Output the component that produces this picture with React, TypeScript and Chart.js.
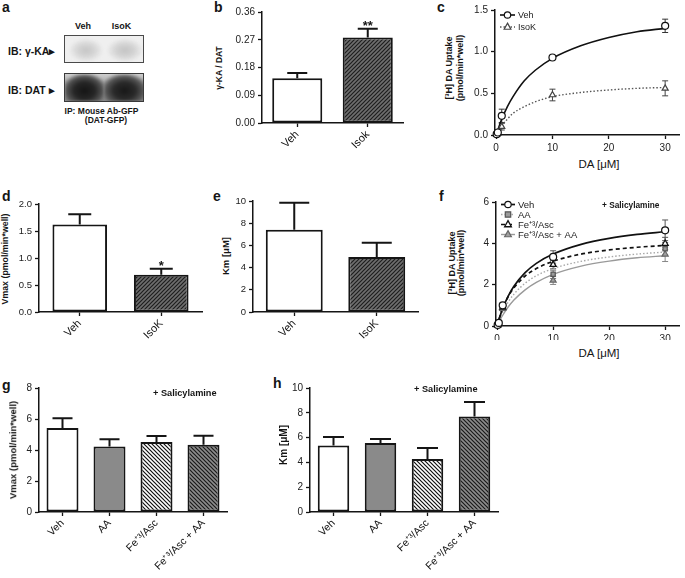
import React, { useEffect, useRef } from "react";
import { Chart, registerables } from "chart.js";

Chart.register(...registerables);

const FONT = "'Liberation Sans', Arial, Helvetica, sans-serif";
const INK = "#151515";
const TICK_INK = "#222222";

// ---------------- Panel b: gamma-KA / DAT ----------------
const bCategories = ["Veh", "Isok"];
const bValues = [0.145, 0.277];
const bErrors = [0.017, 0.029];
const bSignif = ["", "**"];
const bTicks = [0, 0.09, 0.18, 0.27, 0.36];
const bTickLabels = ["0.00", "0.09", "0.18", "0.27", "0.36"];

// ---------------- Panel c: uptake kinetics ----------------
const cCurveX = [0, 0.5, 1, 2, 3, 5, 7, 10, 15, 20, 25, 30];
const cVehCurve = [0, 0.1, 0.19, 0.34, 0.46, 0.65, 0.78, 0.92, 1.07, 1.17, 1.24, 1.28];
const cIsoKCurve = [0, 0.06, 0.11, 0.19, 0.26, 0.34, 0.4, 0.46, 0.51, 0.54, 0.56, 0.57];
const cPointX = [0.1, 0.3, 1, 10, 30];
const cVehPoints = [0.01, 0.03, 0.23, 0.93, 1.31];
const cVehErrors = [0.01, 0.02, 0.08, 0.02, 0.08];
const cIsoKPoints = [0.005, 0.015, 0.1, 0.48, 0.56];
const cIsoKErrors = [0.005, 0.01, 0.04, 0.07, 0.09];
const cSeriesNames = ["Veh", "IsoK"];
const cXTicks = [0, 10, 20, 30];
const cYTicks = [0, 0.5, 1, 1.5];
const cYTickLabels = ["0.0", "0.5", "1.0", "1.5"];

// ---------------- Panel d: Vmax ----------------
const dCategories = ["Veh", "IsoK"];
const dValues = [1.62, 0.69];
const dErrors = [0.19, 0.11];
const dSignif = ["", "*"];
const dTicks = [0, 0.5, 1, 1.5, 2];
const dTickLabels = ["0.0", "0.5", "1.0", "1.5", "2.0"];

// ---------------- Panel e: Km ----------------
const eCategories = ["Veh", "IsoK"];
const eValues = [7.42, 4.95];
const eErrors = [2.42, 1.28];
const eTicks = [0, 2, 4, 6, 8, 10];

// ---------------- Panel f: uptake kinetics + Salicylamine ----------------
const fCurveX = [0, 0.5, 1, 2, 3, 5, 7, 10, 15, 20, 25, 30];
const fVehCurve = [0, 0.46, 0.85, 1.46, 1.92, 2.58, 3.03, 3.48, 3.95, 4.24, 4.43, 4.56];
const fAACurve = [0, 0.37, 0.68, 1.17, 1.54, 2.07, 2.43, 2.78, 3.13, 3.34, 3.48, 3.58];
const fFeCurve = [0, 0.47, 0.86, 1.44, 1.85, 2.42, 2.78, 3.13, 3.48, 3.68, 3.81, 3.9];
const fFeAACurve = [0, 0.28, 0.52, 0.93, 1.26, 1.75, 2.11, 2.5, 2.9, 3.14, 3.3, 3.4];
const fPointX = [0.1, 0.3, 1, 10, 30];
const fVehPoints = [0.05, 0.15, 1.0, 3.34, 4.63];
const fVehErrors = [0.03, 0.05, 0.1, 0.3, 0.5];
const fAAPoints = [0.04, 0.12, 1.0, 2.5, 3.74];
const fAAErrors = [0.03, 0.05, 0.1, 0.2, 0.3];
const fFePoints = [0.05, 0.13, 0.9, 2.97, 3.99];
const fFeErrors = [0.03, 0.05, 0.1, 0.2, 0.3];
const fFeAAPoints = [0.03, 0.1, 0.84, 2.21, 3.47];
const fFeAAErrors = [0.03, 0.05, 0.1, 0.2, 0.35];
const fSeriesNames = ["Veh", "AA", "Fe\u207A\u00B3/Asc", "Fe\u207A\u00B3/Asc + AA"];
const fXTicks = [0, 10, 20, 30];
const fYTicks = [0, 2, 4, 6];

// ---------------- Panels g / h ----------------
const ghCategories = ["Veh", "AA", "Fe\u207A\u00B3/Asc", "Fe\u207A\u00B3/Asc + AA"];
const gValues = [5.42, 4.23, 4.52, 4.34];
const gErrors = [0.63, 0.46, 0.38, 0.58];
const gTicks = [0, 2, 4, 6, 8];
const hValues = [5.37, 5.56, 4.27, 7.71];
const hErrors = [0.68, 0.33, 0.89, 1.16];
const hTicks = [0, 2, 4, 6, 8, 10];

// ---------------- geometry (canvas box + plot area in page px) ----------------
const GEO: any = {
  b: { left: 226, top: 0, width: 186, height: 160, x0: 262, y0: 12, x1: 403, y1: 123 },
  c: { left: 470, top: 0, width: 215, height: 155, x0: 495, y0: 10, x1: 683, y1: 135 },
  d: { left: 12, top: 190, width: 198, height: 155, x0: 39, y0: 204, x1: 202, y1: 312 },
  e: { left: 232, top: 190, width: 192, height: 155, x0: 253, y0: 201, x1: 418, y1: 312 },
  f: { left: 470, top: 190, width: 215, height: 150, x0: 496, y0: 202, x1: 683, y1: 326 },
  g: { left: 14, top: 378, width: 220, height: 200, x0: 39, y0: 388, x1: 227, y1: 512 },
  h: { left: 286, top: 378, width: 218, height: 200, x0: 310, y0: 388, x1: 498, y1: 512 },
};

function makeHatch(bg: string, fg: string, step: number, dir: number, lw: number) {
  const c = document.createElement("canvas");
  c.width = step;
  c.height = step;
  const x = c.getContext("2d")!;
  x.fillStyle = bg;
  x.fillRect(0, 0, step, step);
  x.strokeStyle = fg;
  x.lineWidth = lw;
  x.beginPath();
  if (dir > 0) {
    x.moveTo(-1, step + 1);
    x.lineTo(step + 1, -1);
    x.moveTo(-1, 1);
    x.lineTo(1, -1);
    x.moveTo(step - 1, step + 1);
    x.lineTo(step + 1, step - 1);
  } else {
    x.moveTo(-1, -1);
    x.lineTo(step + 1, step + 1);
    x.moveTo(step - 1, -1);
    x.lineTo(step + 1, 1);
    x.moveTo(-1, step - 1);
    x.lineTo(1, step + 1);
  }
  x.stroke();
  return x.createPattern(c, "repeat");
}

function drawMarker(ctx: CanvasRenderingContext2D, style: string, x: number, y: number, r: number, fill: string, stroke: string, lw: number) {
  ctx.save();
  ctx.setLineDash([]);
  ctx.beginPath();
  if (style === "circle") ctx.arc(x, y, r, 0, Math.PI * 2);
  else if (style === "rect") ctx.rect(x - r, y - r, 2 * r, 2 * r);
  else {
    ctx.moveTo(x, y - r * 1.2);
    ctx.lineTo(x + r * 1.05, y + r * 0.7);
    ctx.lineTo(x - r * 1.05, y + r * 0.7);
    ctx.closePath();
  }
  ctx.fillStyle = fill;
  ctx.fill();
  ctx.strokeStyle = stroke;
  ctx.lineWidth = lw;
  ctx.stroke();
  ctx.restore();
}

const valueOf = (d: any) => (typeof d === "number" ? d : d.y);

const errorBarPlugin = {
  id: "errbars",
  beforeDatasetsDraw(chart: any) {
    const ctx = chart.ctx;
    const yS = chart.scales.y;
    chart.data.datasets.forEach((ds: any, di: number) => {
      if (!ds.errors) return;
      const meta = chart.getDatasetMeta(di);
      ctx.save();
      ctx.strokeStyle = ds.errColor || INK;
      ctx.lineWidth = ds.errWidth || 2;
      meta.data.forEach((el: any, i: number) => {
        const v = valueOf(ds.data[i]);
        const e = ds.errors[i];
        const x = el.x;
        const yTop = yS.getPixelForValue(v + e);
        const yBot = ds.bothSides ? yS.getPixelForValue(Math.max(v - e, 0)) : yS.getPixelForValue(v);
        const cw = ds.capWidth / 2;
        ctx.beginPath();
        ctx.moveTo(x, yBot);
        ctx.lineTo(x, yTop);
        ctx.moveTo(x - cw, yTop);
        ctx.lineTo(x + cw, yTop);
        if (ds.bothSides) {
          ctx.moveTo(x - cw, yBot);
          ctx.lineTo(x + cw, yBot);
        }
        ctx.stroke();
      });
      ctx.restore();
    });
  },
  afterDatasetsDraw(chart: any) {
    const ctx = chart.ctx;
    const yS = chart.scales.y;
    chart.data.datasets.forEach((ds: any, di: number) => {
      if (!ds.signif) return;
      const meta = chart.getDatasetMeta(di);
      ctx.save();
      ctx.fillStyle = INK;
      ctx.font = `bold 13px ${FONT}`;
      ctx.textAlign = "center";
      ctx.textBaseline = "alphabetic";
      meta.data.forEach((el: any, i: number) => {
        const s = ds.signif[i];
        if (!s) return;
        const top = yS.getPixelForValue(valueOf(ds.data[i]) + ds.errors[i]);
        ctx.fillText(s, el.x, top + 1.5);
      });
      ctx.restore();
    });
  },
};

const kinLegendPlugin = {
  id: "kinLegend",
  afterDraw(chart: any, _args: any, opts: any) {
    if (!opts || !opts.items) return;
    const ctx = chart.ctx;
    const a = chart.chartArea;
    opts.items.forEach((it: any, i: number) => {
      const y = a.top + opts.dy + i * opts.rowH;
      const x = a.left + opts.dx;
      ctx.save();
      ctx.strokeStyle = it.color;
      ctx.lineWidth = it.lw;
      ctx.setLineDash(it.dash);
      ctx.beginPath();
      ctx.moveTo(x, y);
      ctx.lineTo(x + opts.lineLen, y);
      ctx.stroke();
      ctx.restore();
      drawMarker(ctx, it.marker, x + opts.lineLen / 2, y, it.r, it.fill, it.stroke, it.mlw);
      ctx.save();
      ctx.fillStyle = TICK_INK;
      ctx.font = `${opts.size}px ${FONT}`;
      ctx.textAlign = "left";
      ctx.textBaseline = "middle";
      ctx.fillText(it.text, x + opts.lineLen + 3, y + 0.5);
      ctx.restore();
    });
  },
};

function axisBase(size: number) {
  return {
    grid: { display: true, drawOnChartArea: false, drawTicks: true, tickLength: 4, tickWidth: 1.3, color: INK, offset: false },
    border: { display: true, color: INK, width: 1.5 },
    ticks: { color: TICK_INK, font: { family: FONT, size } },
  };
}

function yAxis(geo: any, ticks: number[], labels: string[], size: number) {
  const base = axisBase(size);
  return {
    type: "linear",
    min: ticks[0],
    max: ticks[ticks.length - 1],
    afterBuildTicks: (s: any) => {
      s.ticks = ticks.map((v) => ({ value: v }));
    },
    grid: base.grid,
    border: base.border,
    ticks: { ...base.ticks, padding: 3, callback: (_v: any, i: number) => labels[i] },
    afterFit: (s: any) => {
      s.width = geo.x0 - geo.left;
    },
  };
}

function commonOptions(geo: any) {
  return {
    animation: false,
    responsive: false,
    maintainAspectRatio: false,
    devicePixelRatio: 1,
    events: [],
    layout: { padding: { left: 0, top: geo.y0 - geo.top, right: geo.left + geo.width - geo.x1, bottom: 0 } },
  };
}

function barConfig(geo: any, categories: string[], values: number[], errors: number[], fills: any[], ticks: number[], tickLabels: string[], o: any) {
  const base = axisBase(o.catSize);
  return {
    type: "bar",
    data: {
      labels: categories,
      datasets: [
        {
          data: values,
          errors,
          signif: o.signif,
          capWidth: o.capWidth,
          backgroundColor: fills,
          borderColor: INK,
          borderWidth: 2,
          borderSkipped: false,
          barPercentage: o.barPct,
          categoryPercentage: 1,
        },
      ],
    },
    options: {
      ...commonOptions(geo),
      plugins: { legend: { display: false }, tooltip: { enabled: false } },
      scales: {
        x: {
          type: "category",
          offset: true,
          grid: base.grid,
          border: base.border,
          ticks: { ...base.ticks, color: "#111111", autoSkip: false, maxRotation: 45, minRotation: 45, padding: 1 },
          afterFit: (s: any) => {
            s.height = geo.top + geo.height - geo.y1;
          },
        },
        y: yAxis(geo, ticks, tickLabels, o.tickSize),
      },
    },
    plugins: [errorBarPlugin],
  };
}

function kinConfig(geo: any, curveX: number[], pointX: number[], series: any[], xTicks: number[], yTicks: number[], yLabels: string[], legend: any, tickSize: number) {
  const base = axisBase(tickSize);
  const curves = series.map((s) => ({
    type: "line",
    data: curveX.map((x, i) => ({ x, y: s.curve[i] })),
    borderColor: s.color,
    borderWidth: s.lw,
    borderDash: s.dash,
    pointRadius: 0,
    tension: 0.4,
    cubicInterpolationMode: "monotone",
    fill: false,
    order: 2,
  }));
  const points = series.map((s) => ({
    type: "scatter",
    data: pointX.map((x, i) => ({ x, y: s.points[i] })),
    errors: s.errors,
    bothSides: true,
    capWidth: 6,
    errColor: s.errColor,
    errWidth: 1,
    pointStyle: s.marker,
    pointRadius: s.r,
    backgroundColor: s.fill,
    borderColor: s.stroke,
    borderWidth: s.mlw,
    clip: false,
    order: 1,
  }));
  return {
    type: "scatter",
    data: { datasets: [...curves, ...points] },
    options: {
      ...commonOptions(geo),
      plugins: {
        legend: { display: false },
        tooltip: { enabled: false },
        kinLegend: {
          ...legend,
          items: series.map((s) => ({ text: s.name, color: s.color, lw: s.lw, dash: s.dash, marker: s.marker, r: s.r - 0.3, fill: s.fill, stroke: s.stroke, mlw: s.mlw })),
        },
      },
      scales: {
        x: {
          type: "linear",
          min: -0.2,
          max: 32.6,
          afterBuildTicks: (s: any) => {
            s.ticks = xTicks.map((v) => ({ value: v }));
          },
          grid: base.grid,
          border: base.border,
          ticks: { ...base.ticks, padding: 3, maxRotation: 0, callback: (v: any) => String(v) },
          afterFit: (s: any) => {
            s.height = geo.top + geo.height - geo.y1;
          },
        },
        y: yAxis(geo, yTicks, yLabels, tickSize),
      },
    },
    plugins: [errorBarPlugin, kinLegendPlugin],
  };
}

function ChartBox({ geo, build }: { geo: any; build: () => any }) {
  const ref = useRef<HTMLCanvasElement | null>(null);
  useEffect(() => {
    const cv = ref.current;
    if (!cv) return;
    const chart = new Chart(cv, build());
    return () => chart.destroy();
  }, []);
  return (
    <canvas
      ref={ref}
      width={geo.width}
      height={geo.height}
      style={{ position: "absolute", left: geo.left, top: geo.top, width: geo.width, height: geo.height }}
    />
  );
}

function Txt({ x, y, size, bold = false, anchor = "c", rot = 0, children, color = INK }: any) {
  const tx = anchor === "l" ? "0" : anchor === "r" ? "-100%" : "-50%";
  return (
    <div
      style={{
        position: "absolute",
        left: x,
        top: y,
        transform: `translate(${tx}, -50%)${rot ? ` rotate(${rot}deg)` : ""}`,
        fontFamily: FONT,
        fontSize: size,
        fontWeight: bold ? 700 : 400,
        lineHeight: 1,
        whiteSpace: "nowrap",
        color,
      }}
    >
      {children}
    </div>
  );
}

function Blot() {
  const lane = (left: number, width: number, bg: string, blur: number) => (
    <div style={{ position: "absolute", left, top: 0, width, height: "100%", background: bg, filter: `blur(${blur}px)` }} />
  );
  return (
    <>
      <div
        style={{ position: "absolute", left: 64, top: 35, width: 80, height: 28, border: "1px solid #4a4a4a", boxSizing: "border-box", background: "#efefef", overflow: "hidden" }}
      >
        {lane(4, 34, "radial-gradient(ellipse 60% 55% at 50% 55%, #c6c6c6 0%, #d6d6d6 45%, rgba(239,239,239,0) 85%)", 1)}
        {lane(42, 36, "radial-gradient(ellipse 60% 55% at 50% 55%, #c4c4c4 0%, #d4d4d4 45%, rgba(239,239,239,0) 85%)", 1)}
      </div>
      <div
        style={{ position: "absolute", left: 64, top: 73, width: 80, height: 29, border: "1px solid #3a3a3a", boxSizing: "border-box", background: "linear-gradient(#d0d0d0, #a0a0a0 40%, #909090)", overflow: "hidden" }}
      >
        {lane(0, 39, "radial-gradient(ellipse 60% 68% at 50% 62%, #151515 0%, #262626 45%, #505050 75%, rgba(120,120,120,0) 100%)", 1.2)}
        {lane(39, 41, "radial-gradient(ellipse 60% 68% at 50% 62%, #181818 0%, #2a2a2a 45%, #555555 75%, rgba(120,120,120,0) 100%)", 1.2)}
      </div>
    </>
  );
}

export default function App() {
  const hatchDark = () => makeHatch("#6e6e6e", "#1e1e1e", 4, 1, 1.2);

  const buildB = () => barConfig(GEO.b, bCategories, bValues, bErrors, ["#ffffff", hatchDark()], bTicks, bTickLabels, { signif: bSignif, capWidth: 20, barPct: 0.71, catSize: 11, tickSize: 10 });
  const buildD = () => barConfig(GEO.d, dCategories, dValues, dErrors, ["#ffffff", hatchDark()], dTicks, dTickLabels, { signif: dSignif, capWidth: 23, barPct: 0.67, catSize: 11, tickSize: 9.5 });
  const buildE = () => barConfig(GEO.e, eCategories, eValues, eErrors, ["#ffffff", hatchDark()], eTicks, eTicks.map(String), { capWidth: 30, barPct: 0.69, catSize: 11, tickSize: 9.5 });
  const ghFills = () => ["#ffffff", "#8a8a8a", makeHatch("#ffffff", "#111111", 4, -1, 1.2), makeHatch("#8c8c8c", "#1a1a1a", 4, -1, 1.2)];
  const buildG = () => barConfig(GEO.g, ghCategories, gValues, gErrors, ghFills(), gTicks, gTicks.map(String), { capWidth: 20, barPct: 0.68, catSize: 10.5, tickSize: 10 });
  const buildH = () => barConfig(GEO.h, ghCategories, hValues, hErrors, ghFills(), hTicks, hTicks.map(String), { capWidth: 21, barPct: 0.67, catSize: 10.5, tickSize: 10 });

  const buildC = () =>
    kinConfig(
      GEO.c,
      cCurveX,
      cPointX,
      [
        { name: cSeriesNames[0], curve: cVehCurve, points: cVehPoints, errors: cVehErrors, color: "#111111", lw: 1.6, dash: [], marker: "circle", r: 3.5, fill: "#ffffff", stroke: "#111111", mlw: 1.2, errColor: "#333333" },
        { name: cSeriesNames[1], curve: cIsoKCurve, points: cIsoKPoints, errors: cIsoKErrors, color: "#555555", lw: 1.4, dash: [1.5, 2], marker: "triangle", r: 3.5, fill: "#ffffff", stroke: "#444444", mlw: 1.2, errColor: "#444444" },
      ],
      cXTicks,
      cYTicks,
      cYTickLabels,
      { dx: 5, dy: 5, rowH: 12, lineLen: 15, size: 9 },
      10
    );

  const buildF = () =>
    kinConfig(
      GEO.f,
      fCurveX,
      fPointX,
      [
        { name: fSeriesNames[0], curve: fVehCurve, points: fVehPoints, errors: fVehErrors, color: "#111111", lw: 1.7, dash: [], marker: "circle", r: 3.5, fill: "#ffffff", stroke: "#111111", mlw: 1.2, errColor: "#555555" },
        { name: fSeriesNames[1], curve: fAACurve, points: fAAPoints, errors: fAAErrors, color: "#a8a8a8", lw: 1.4, dash: [1.5, 2], marker: "rect", r: 3, fill: "#9a9a9a", stroke: "#555555", mlw: 1.2, errColor: "#777777" },
        { name: fSeriesNames[2], curve: fFeCurve, points: fFePoints, errors: fFeErrors, color: "#111111", lw: 1.7, dash: [4, 3], marker: "triangle", r: 3.5, fill: "#ffffff", stroke: "#111111", mlw: 1.3, errColor: "#555555" },
        { name: fSeriesNames[3], curve: fFeAACurve, points: fFeAAPoints, errors: fFeAAErrors, color: "#9a9a9a", lw: 1.4, dash: [], marker: "triangle", r: 3.5, fill: "#a0a0a0", stroke: "#666666", mlw: 1.2, errColor: "#888888" },
      ],
      fXTicks,
      fYTicks,
      fYTicks.map(String),
      { dx: 5, dy: 2.5, rowH: 10, lineLen: 14, size: 9.5 },
      10
    );

  return (
    <div style={{ position: "absolute", left: 0, top: 0, width: 685, height: 578, background: "#ffffff", overflow: "hidden" }}>
      {/* panel letters */}
      <Txt x={2} y={7} size={14} bold anchor="l">a</Txt>
      <Txt x={214} y={7} size={14} bold anchor="l">b</Txt>
      <Txt x={437} y={7} size={14} bold anchor="l">c</Txt>
      <Txt x={2} y={196} size={14} bold anchor="l">d</Txt>
      <Txt x={213} y={196} size={14} bold anchor="l">e</Txt>
      <Txt x={439} y={196} size={14} bold anchor="l">f</Txt>
      <Txt x={2} y={385} size={14} bold anchor="l">g</Txt>
      <Txt x={273} y={383} size={14} bold anchor="l">h</Txt>

      {/* panel a: blot */}
      <Blot />
      <Txt x={83} y={26} size={9} bold>Veh</Txt>
      <Txt x={121.5} y={26} size={9} bold>IsoK</Txt>
      <Txt x={8} y={51} size={10.5} bold anchor="l">IB: γ-KA▸</Txt>
      <Txt x={8} y={90} size={10.5} bold anchor="l">IB: DAT ▸</Txt>
      <Txt x={101.5} y={110.5} size={8.5} bold>IP: Mouse Ab-GFP</Txt>
      <Txt x={106} y={119.5} size={8.5} bold>(DAT-GFP)</Txt>

      {/* charts */}
      <ChartBox geo={GEO.b} build={buildB} />
      <ChartBox geo={GEO.c} build={buildC} />
      <ChartBox geo={GEO.d} build={buildD} />
      <ChartBox geo={GEO.e} build={buildE} />
      <ChartBox geo={GEO.f} build={buildF} />
      <ChartBox geo={GEO.g} build={buildG} />
      <ChartBox geo={GEO.h} build={buildH} />

      {/* axis titles */}
      <Txt x={219} y={68} size={8.5} bold rot={-90}>γ-KA / DAT</Txt>
      <Txt x={449} y={68} size={9} bold rot={-90}>[³H] DA Uptake</Txt>
      <Txt x={460} y={68} size={9} bold rot={-90}>(pmol/min*well)</Txt>
      <Txt x={599} y={165} size={11.5}>DA [μM]</Txt>
      <Txt x={5} y={259} size={8.8} bold rot={-90}>Vmax (pmol/min*well)</Txt>
      <Txt x={226} y={256} size={9.5} bold rot={-90}>Km [μM]</Txt>
      <Txt x={452} y={263} size={9} bold rot={-90}>[³H] DA Uptake</Txt>
      <Txt x={461} y={263} size={9} bold rot={-90}>(pmol/min*well)</Txt>
      <Txt x={599} y={354} size={11.5}>DA [μM]</Txt>
      <Txt x={13} y={450} size={9.5} bold rot={-90}>Vmax (pmol/min*well)</Txt>
      <Txt x={284} y={445} size={10} bold rot={-90}>Km [μM]</Txt>

      {/* annotations */}
      <Txt x={602} y={205} size={8.3} bold anchor="l">+ Salicylamine</Txt>
      <Txt x={153} y={394} size={9.2} bold anchor="l">+ Salicylamine</Txt>
      <Txt x={414} y={390} size={9.2} bold anchor="l">+ Salicylamine</Txt>
    </div>
  );
}
